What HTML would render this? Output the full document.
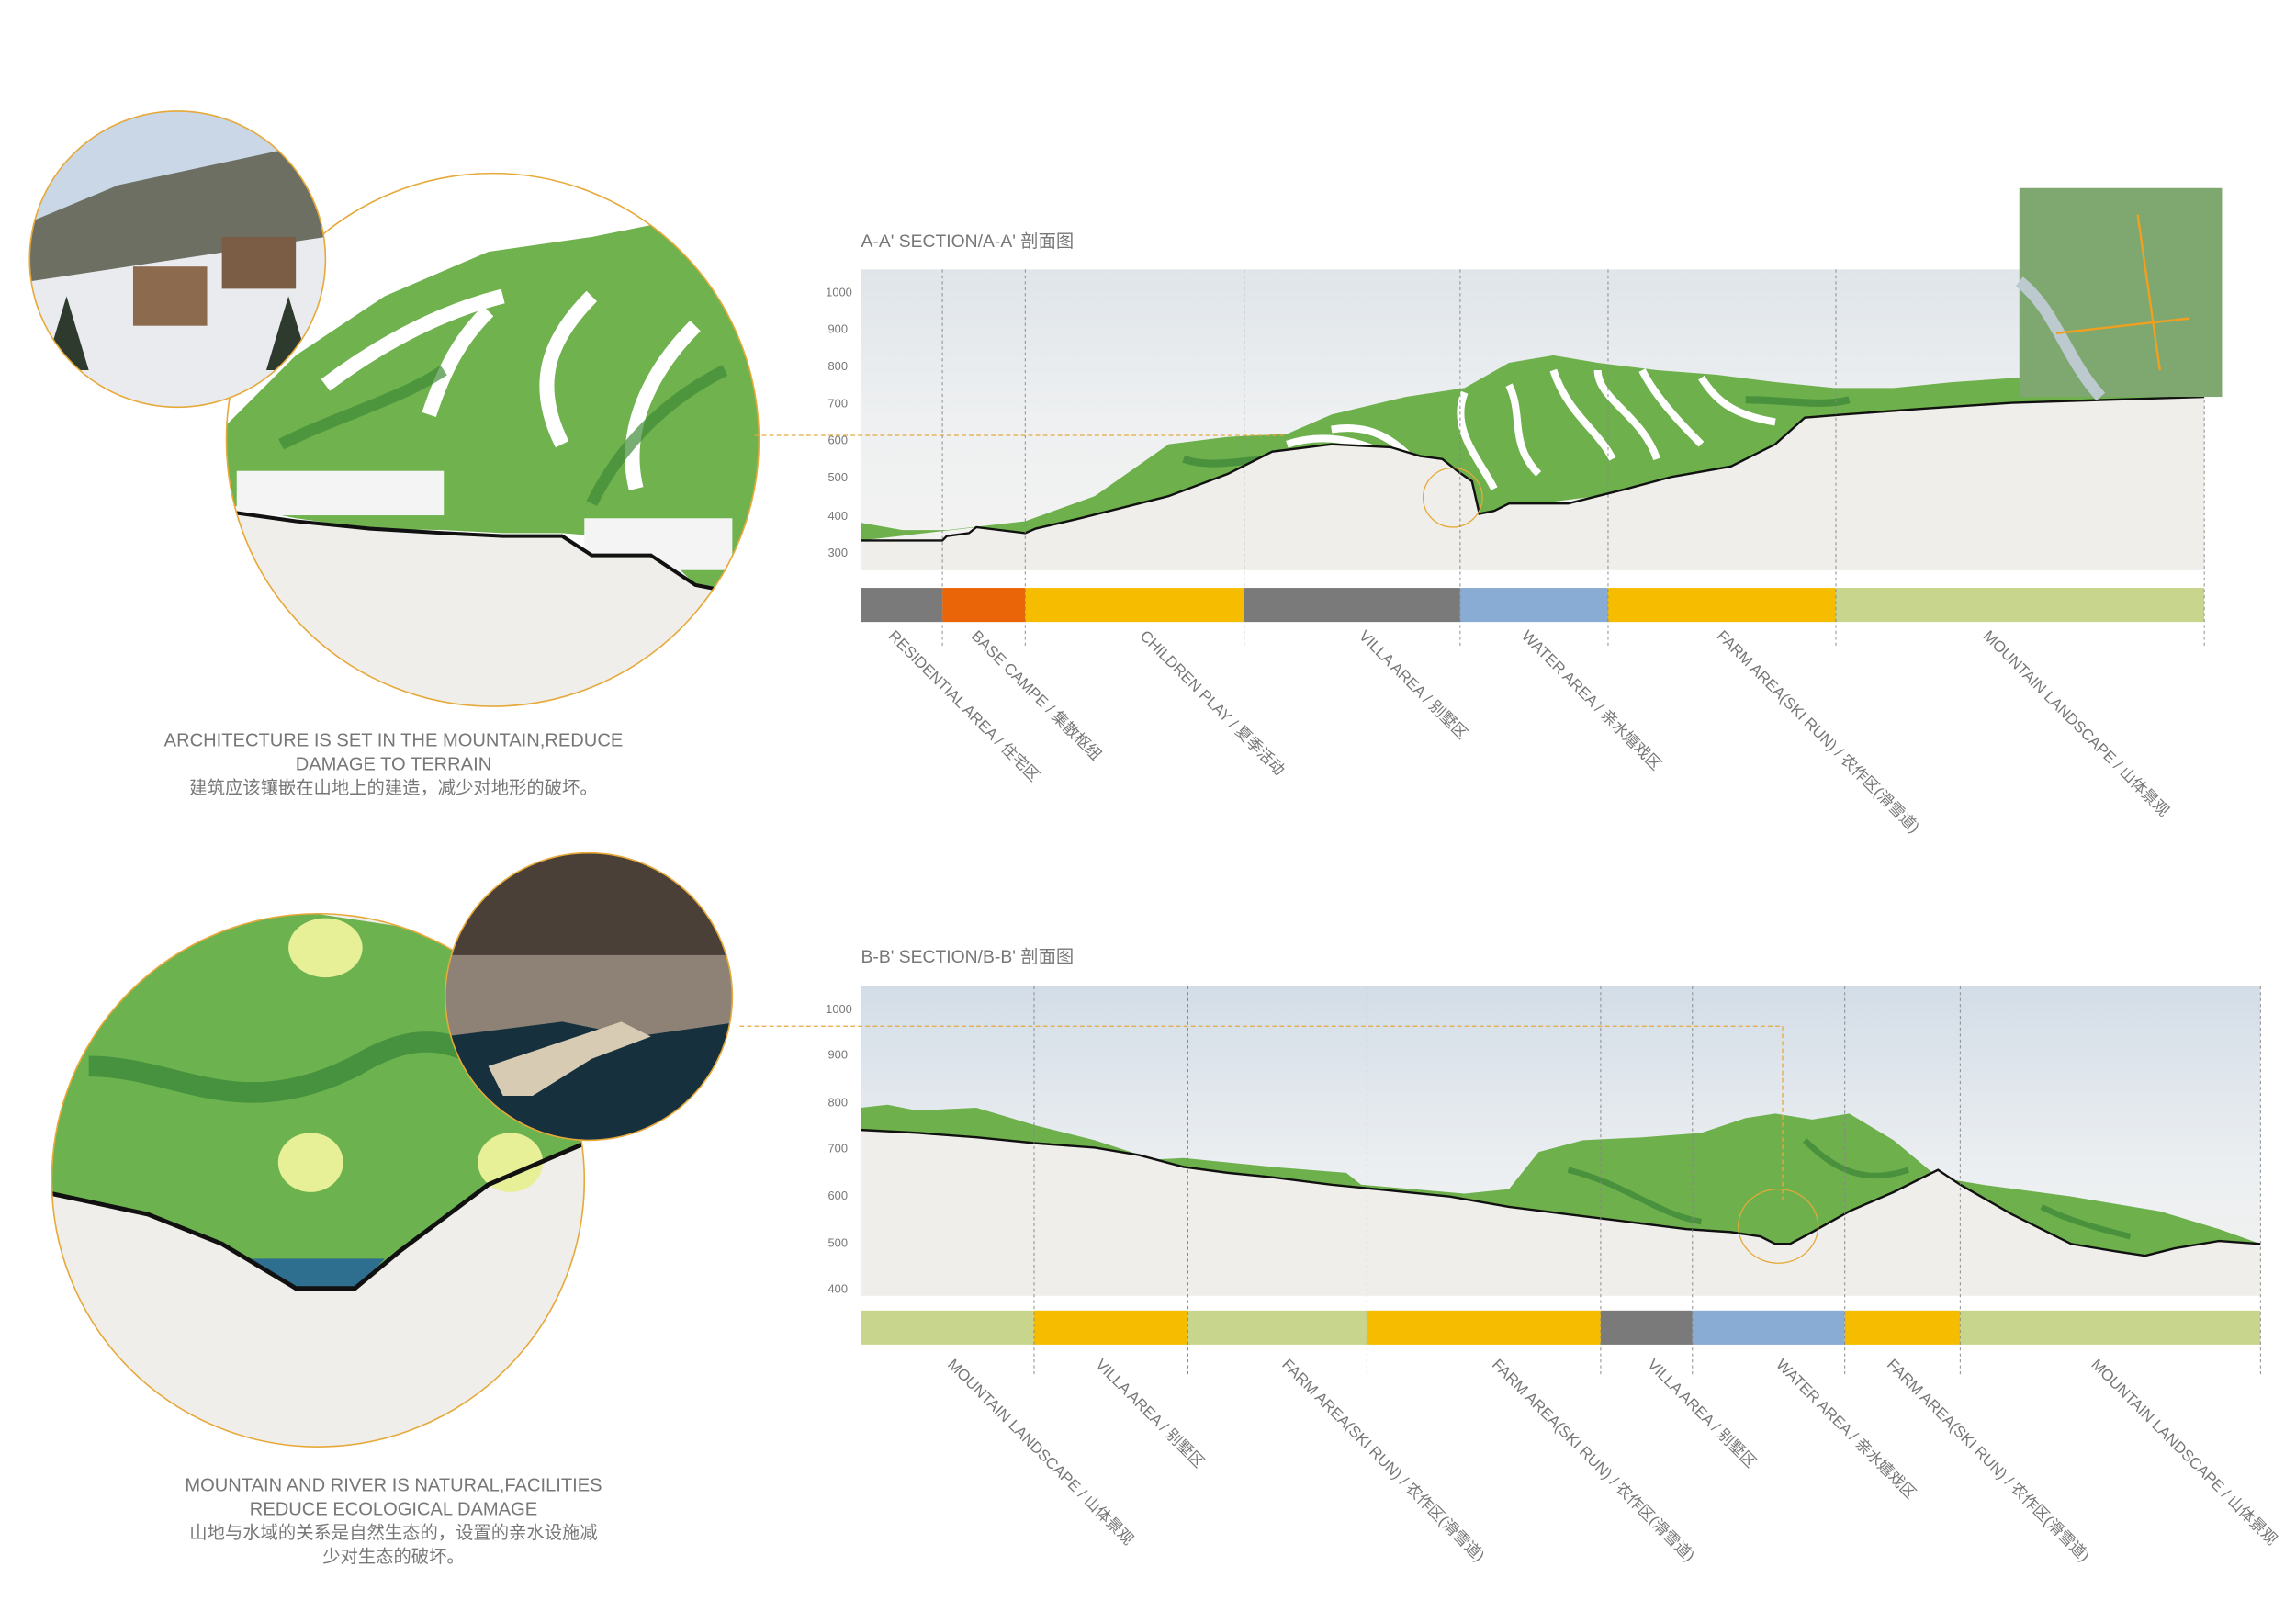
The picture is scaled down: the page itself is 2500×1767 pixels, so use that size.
<!DOCTYPE html>
<html><head><meta charset="utf-8"><style>
html,body{margin:0;padding:0;background:#fff}
svg{display:block}
text{font-family:"Liberation Sans","Noto Sans CJK SC",sans-serif;fill:#777}
</style></head><body>
<svg width="2500" height="1767" viewBox="0 0 1552 1096" preserveAspectRatio="none" xmlns="http://www.w3.org/2000/svg">
<defs>
<linearGradient id="sky" x1="0" y1="0" x2="0" y2="1"><stop offset="0" stop-color="#dfe5ea"/><stop offset="0.5" stop-color="#eef0f1"/><stop offset="1" stop-color="#f3f3f1"/></linearGradient>
<linearGradient id="sky2" x1="0" y1="0" x2="0" y2="1"><stop offset="0" stop-color="#d3dde7"/><stop offset="0.6" stop-color="#eceff1"/><stop offset="1" stop-color="#f2f2f0"/></linearGradient>
<clipPath id="c1"><circle cx="333" cy="297" r="180"/></clipPath>
<clipPath id="c2"><circle cx="215" cy="797" r="180"/></clipPath>
<clipPath id="p1"><circle cx="120" cy="175" r="100"/></clipPath>
<clipPath id="p2"><circle cx="398" cy="673" r="97"/></clipPath>
</defs>

<!-- TOP CIRCLES -->
<g clip-path="url(#c1)">
<rect x="150" y="110" width="370" height="380" fill="#fff"/>
<path d="M150,290 L200,240 L260,200 L330,170 L400,160 L450,150 L520,160 L520,400 L470,395 L440,365 L380,360 L340,360 L300,358 L250,357 L200,350 L150,340Z" fill="#6fb24e"/>
<path d="M220,260 C260,230 300,210 340,200 M290,280 C300,250 310,230 330,210 M380,300 C360,260 370,230 400,200 M430,330 C420,290 440,250 470,220" stroke="#fff" stroke-width="10" fill="none"/>
<path d="M190,300 C230,280 270,270 300,250 M400,340 C420,300 450,270 490,250" stroke="#3f8a37" stroke-width="8" fill="none" opacity="0.7"/>
<rect x="160" y="318" width="140" height="30" fill="#f4f4f4"/>
<rect x="395" y="350" width="100" height="35" fill="#f4f4f4"/>
<path d="M150,345 L200,352 L250,357 L300,360 L340,362 L380,362 L400,375 L440,375 L470,395 L520,405 L520,490 L150,490Z" fill="#efeeea"/>
<path d="M150,345 L200,352 L250,357 L300,360 L340,362 L380,362 L400,375 L440,375 L470,395 L520,405" stroke="#111" stroke-width="2.5" fill="none"/>
</g>
<circle cx="333" cy="297" r="180" fill="none" stroke="#e6a93a" stroke-width="1"/>
<g clip-path="url(#p1)">
<rect x="20" y="75" width="200" height="200" fill="#c9d7e6"/>
<path d="M20,150 L80,125 L150,110 L220,95 L220,175 L20,190Z" fill="#6d6f62"/>
<path d="M20,190 L220,160 L220,275 L20,275Z" fill="#e9ebee"/>
<rect x="90" y="180" width="50" height="40" fill="#8b6a4e"/>
<rect x="150" y="160" width="50" height="35" fill="#7b5d45"/>
<path d="M30,250 L45,200 L60,250Z M180,250 L195,200 L210,250Z" fill="#2f3a2e"/>
</g>
<circle cx="120" cy="175" r="100" fill="none" stroke="#e6a93a" stroke-width="1"/>
<text x="266" y="504" font-size="12.5" text-anchor="middle">ARCHITECTURE IS SET IN THE MOUNTAIN,REDUCE</text>
<text x="266" y="520" font-size="12.5" text-anchor="middle">DAMAGE TO TERRAIN</text>
<text x="266" y="536" font-size="12" text-anchor="middle">建筑应该镶嵌在山地上的建造，减少对地形的破坏。</text>

<!-- BOTTOM CIRCLES -->
<g clip-path="url(#c2)">
<rect x="30" y="610" width="370" height="380" fill="#efeeea"/>
<path d="M30,805 L30,660 L120,630 L200,615 L300,630 L400,700 L400,770 L330,800 L270,845 L240,870 L200,868 L150,840 L100,820Z" fill="#6cb34f"/>
<path d="M60,720 C120,720 160,760 240,720 C290,690 320,700 380,760" stroke="#3d8a3a" stroke-width="14" fill="none" opacity="0.8"/>
<ellipse cx="220" cy="640" rx="25" ry="20" fill="#e7ef97"/>
<ellipse cx="210" cy="785" rx="22" ry="20" fill="#e7ef97"/>
<ellipse cx="345" cy="785" rx="22" ry="20" fill="#e7ef97"/>
<path d="M170,850 L260,850 L240,872 L200,872Z" fill="#2e6e8e"/>
<path d="M30,805 L100,820 L150,840 L200,870 L240,870 L270,845 L330,800 L400,770" stroke="#111" stroke-width="3" fill="none"/>
</g>
<circle cx="215" cy="797" r="180" fill="none" stroke="#e6a93a" stroke-width="1"/>
<g clip-path="url(#p2)">
<rect x="300" y="575" width="200" height="200" fill="#8d8275"/>
<rect x="300" y="575" width="200" height="70" fill="#4b4037"/>
<path d="M300,700 L380,690 L430,700 L500,690 L500,775 L300,775Z" fill="#16303d"/>
<path d="M330,720 L390,700 L420,690 L440,700 L400,715 L360,740 L340,740Z" fill="#d8cbb4"/>
</g>
<circle cx="398" cy="673" r="97" fill="none" stroke="#e6a93a" stroke-width="1"/>
<text x="266" y="1007" font-size="12.5" text-anchor="middle">MOUNTAIN AND RIVER IS NATURAL,FACILITIES</text>
<text x="266" y="1023" font-size="12.5" text-anchor="middle">REDUCE ECOLOGICAL DAMAGE</text>
<text x="266" y="1039" font-size="12" text-anchor="middle">山地与水域的关系是自然生态的，设置的亲水设施减</text>
<text x="266" y="1055" font-size="12" text-anchor="middle">少对生态的破坏。</text>

<!-- SECTION A -->
<text x="582" y="167" font-size="12">A-A' SECTION/A-A' 剖面图</text>
<rect x="582" y="182" width="908" height="203" fill="url(#sky)"/>
<path d="M582,353 L610,358 L640,358 L693,352 L740,335 L790,300 L830,295 L870,293 L900,280 L950,268 L990,262 L1020,245 L1050,240 L1080,245 L1120,250 L1160,253 L1200,258 L1240,262 L1280,262 L1320,258 L1365,255 L1490,258 L1490,268 L1360,272 L1300,276 L1245,280 L1220,282 L1200,300 L1170,315 L1130,322 L1100,330 L1080,335 L1040,340 L1020,340 L1010,345 L1000,347 L995,325 L985,318 L975,310 L960,308 L940,302 L900,300 L860,305 L830,320 L790,335 L730,350 L700,357 L693,360 L660,356 L582,365Z" fill="#6db04c"/>
<path d="M870,300 C900,290 930,300 960,320 M900,290 C930,285 950,300 970,330 M990,265 C980,290 1000,310 1010,330 M1020,260 C1030,280 1020,300 1040,320 M1050,250 C1060,280 1080,290 1090,310 M1080,250 C1080,270 1110,280 1120,310 M1110,250 C1120,270 1140,290 1150,300 M1150,255 C1160,270 1170,280 1200,285" stroke="#fff" stroke-width="5" fill="none"/>
<path d="M800,310 C830,320 860,300 880,320 M1180,270 C1210,270 1230,275 1250,270" stroke="#3b8537" stroke-width="5" fill="none" opacity="0.7"/>
<path d="M582,365 L637,365 L640,362 L655,360 L660,356 L693,360 L700,357 L730,350 L790,335 L830,320 L860,305 L900,300 L940,302 L960,308 L975,310 L985,318 L995,325 L1000,347 L1010,345 L1020,340 L1060,340 L1080,335 L1100,330 L1130,322 L1170,315 L1200,300 L1220,282 L1245,280 L1300,276 L1360,272 L1490,268 L1490,385 L582,385Z" fill="#efeeea"/>
<path d="M582,365 L637,365 L640,362 L655,360 L660,356 L693,360 L700,357 L730,350 L790,335 L830,320 L860,305 L900,300 L940,302 L960,308 L975,310 L985,318 L995,325 L1000,347 L1010,345 L1020,340 L1060,340 L1080,335 L1100,330 L1130,322 L1170,315 L1200,300 L1220,282 L1245,280 L1300,276 L1360,272 L1490,268" stroke="#111" stroke-width="1.5" fill="none"/>
<path d="M510,294 L870,294" stroke="#e6a93a" stroke-width="0.8" stroke-dasharray="3,2"/>
<circle cx="982" cy="336" r="20" fill="none" stroke="#e6a93a" stroke-width="0.8"/>
<g font-size="8" text-anchor="end" fill="#888"><text x="576" y="200">1000</text><text x="573" y="225">900</text><text x="573" y="250">800</text><text x="573" y="275">700</text><text x="573" y="300">600</text><text x="573" y="325">500</text><text x="573" y="351">400</text><text x="573" y="376">300</text></g>
<rect x="582" y="397" width="55" height="23" fill="#7a7a7a"/>
<rect x="637" y="397" width="56" height="23" fill="#ea6508"/>
<rect x="693" y="397" width="148" height="23" fill="#f6bd00"/>
<rect x="841" y="397" width="146" height="23" fill="#7a7a7a"/>
<rect x="987" y="397" width="100" height="23" fill="#88acd3"/>
<rect x="1087" y="397" width="154" height="23" fill="#f6bd00"/>
<rect x="1241" y="397" width="249" height="23" fill="#c8d58d"/>
<g stroke="#888" stroke-width="0.6" stroke-dasharray="2,2"><path d="M582,182V438M637,182V438M693,182V438M841,182V438M987,182V438M1087,182V438M1241,182V438M1490,182V438"/></g>
<rect x="1365" y="127" width="137" height="141" fill="#7fa870"/>
<path d="M1365,190 C1390,210 1395,240 1420,268" stroke="#bcc9cf" stroke-width="8" fill="none"/>
<path d="M1445,145 L1460,250 M1390,225 L1480,215" stroke="#f0a020" stroke-width="1.5"/>
<g font-size="10.5">
<text transform="translate(600,430) rotate(45)">RESIDENTIAL AREA / 住宅区</text>
<text transform="translate(656,430) rotate(45)">BASE CAMPE / 集散枢纽</text>
<text transform="translate(770,430) rotate(45)">CHILDREN PLAY / 夏季活动</text>
<text transform="translate(918,430) rotate(45)">VILLA AREA / 别墅区</text>
<text transform="translate(1028,430) rotate(45)">WATER AREA / 亲水嬉戏区</text>
<text transform="translate(1160,430) rotate(45)">FARM AREA(SKI RUN) / 农作区(滑雪道)</text>
<text transform="translate(1340,430) rotate(45)">MOUNTAIN LANDSCAPE / 山体景观</text>
</g>

<!-- SECTION B -->
<text x="582" y="650" font-size="12">B-B' SECTION/B-B' 剖面图</text>
<rect x="582" y="666" width="946" height="209" fill="url(#sky2)"/>
<path d="M582,748 L600,746 L620,750 L660,748 L700,760 L740,770 L780,783 L800,782 L860,788 L910,792 L920,800 L990,806 L1020,803 L1040,778 L1070,770 L1110,768 L1150,765 L1180,755 L1200,752 L1225,756 L1250,752 L1280,770 L1310,795 L1340,800 L1400,808 L1460,818 L1500,830 L1528,840 L1500,838 L1470,843 L1450,848 L1430,845 L1400,840 L1360,820 L1325,800 L1310,790 L1300,795 L1280,805 L1250,818 L1225,832 L1210,840 L1200,840 L1190,835 L1170,832 L1140,830 L1100,825 L1060,820 L1020,815 L980,808 L940,804 L900,800 L860,795 L830,792 L800,788 L770,780 L740,775 L700,772 L660,768 L620,765 L582,763Z" fill="#6db04c"/>
<path d="M1060,790 C1100,800 1120,820 1150,825 M1220,770 C1240,790 1260,800 1290,790 M1380,815 C1400,825 1420,830 1440,835" stroke="#3b8537" stroke-width="4" fill="none" opacity="0.7"/>
<path d="M582,763 L620,765 L660,768 L700,772 L740,775 L770,780 L800,788 L830,792 L860,795 L900,800 L940,804 L980,808 L1020,815 L1060,820 L1100,825 L1140,830 L1170,832 L1190,835 L1200,840 L1210,840 L1225,832 L1250,818 L1280,805 L1300,795 L1310,790 L1325,800 L1360,820 L1400,840 L1430,845 L1450,848 L1470,843 L1500,838 L1528,840 L1528,875 L582,875Z" fill="#efeeea"/>
<path d="M582,763 L620,765 L660,768 L700,772 L740,775 L770,780 L800,788 L830,792 L860,795 L900,800 L940,804 L980,808 L1020,815 L1060,820 L1100,825 L1140,830 L1170,832 L1190,835 L1200,840 L1210,840 L1225,832 L1250,818 L1280,805 L1300,795 L1310,790 L1325,800 L1360,820 L1400,840 L1430,845 L1450,848 L1470,843 L1500,838 L1528,840" stroke="#111" stroke-width="1.5" fill="none"/>
<path d="M500,693 L1205,693 L1205,810" stroke="#e6a93a" stroke-width="0.8" stroke-dasharray="3,2" fill="none"/>
<ellipse cx="1202" cy="828" rx="27" ry="25" fill="none" stroke="#e6a93a" stroke-width="0.8"/>
<g font-size="8" text-anchor="end" fill="#888"><text x="576" y="684">1000</text><text x="573" y="715">900</text><text x="573" y="747">800</text><text x="573" y="778">700</text><text x="573" y="810">600</text><text x="573" y="842">500</text><text x="573" y="873">400</text></g>
<rect x="582" y="885" width="117" height="23" fill="#c8d58d"/>
<rect x="699" y="885" width="104" height="23" fill="#f6bd00"/>
<rect x="803" y="885" width="121" height="23" fill="#c8d58d"/>
<rect x="924" y="885" width="158" height="23" fill="#f6bd00"/>
<rect x="1082" y="885" width="62" height="23" fill="#7a7a7a"/>
<rect x="1144" y="885" width="103" height="23" fill="#88acd3"/>
<rect x="1247" y="885" width="78" height="23" fill="#f6bd00"/>
<rect x="1325" y="885" width="203" height="23" fill="#c8d58d"/>
<g stroke="#888" stroke-width="0.6" stroke-dasharray="2,2"><path d="M582,666V928M699,666V928M803,666V928M924,666V928M1082,666V928M1144,666V928M1247,666V928M1325,666V928M1528,666V928"/></g>
<g font-size="10.5">
<text transform="translate(640,922) rotate(45)">MOUNTAIN LANDSCAPE / 山体景观</text>
<text transform="translate(740,922) rotate(45)">VILLA AREA / 别墅区</text>
<text transform="translate(866,922) rotate(45)">FARM AREA(SKI RUN) / 农作区(滑雪道)</text>
<text transform="translate(1008,922) rotate(45)">FARM AREA(SKI RUN) / 农作区(滑雪道)</text>
<text transform="translate(1113,922) rotate(45)">VILLA AREA / 别墅区</text>
<text transform="translate(1200,922) rotate(45)">WATER AREA / 亲水嬉戏区</text>
<text transform="translate(1275,922) rotate(45)">FARM AREA(SKI RUN) / 农作区(滑雪道)</text>
<text transform="translate(1413,922) rotate(45)">MOUNTAIN LANDSCAPE / 山体景观</text>
</g>
</svg>
</body></html>
